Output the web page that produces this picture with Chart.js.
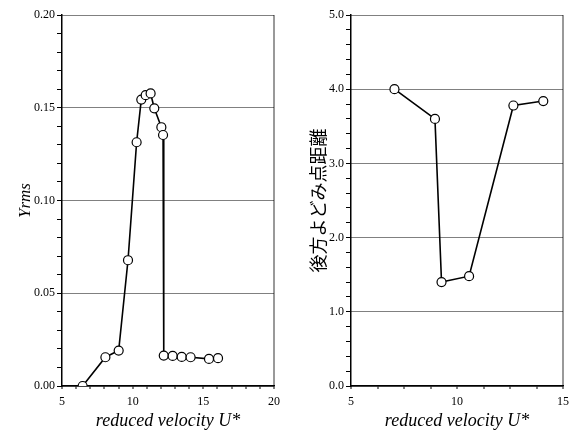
<!DOCTYPE html>
<html lang="ja">
<head>
<meta charset="UTF-8">
<title>reduced velocity</title>
<script src="https://cdn.jsdelivr.net/npm/chart.js"></script>
<style>
  body { margin: 0; background: #fff; }
  .box { position: absolute; top: 0; height: 432px; }
  #left { left: 0; width: 290px; }
  #right { left: 290px; width: 282px; }
</style>
</head>
<body>
<div class="box" id="left"><canvas id="c1"></canvas></div>
<div class="box" id="right"><canvas id="c2"></canvas></div>
<script>
// 左: Yrms
const uLeft = [5, 6.46, 8.07, 9.01, 9.67, 10.28, 10.61, 10.92, 11.27, 11.53, 12.03, 12.15, 12.2, 12.83, 13.47, 14.1, 15.4, 16.04];
const yrms  = [0, 0, 0.0155, 0.0191, 0.0678, 0.1314, 0.1544, 0.1568, 0.1577, 0.1497, 0.1395, 0.1353, 0.0164, 0.0162, 0.0157, 0.0155, 0.0146, 0.015];
// 右: 後方よどみ点距離
const uRight = [7.05, 8.96, 9.27, 10.57, 12.66, 14.07];
const dist   = [4.00, 3.60, 1.40, 1.48, 3.78, 3.84];

const leftXTitle = 'reduced velocity U*';
const leftYTitle = 'Yrms';
const rightYTitle = '後方よどみ点距離';

const serif = 'Liberation Serif';

function isMult(v, m) {
  return Math.abs(v / m - Math.round(v / m)) < 1e-6;
}

function makeChart(id, xs, ys, cfg) {
  const pts = xs.map((x, i) => ({ x: x, y: ys[i] }));
  return new Chart(document.getElementById(id), {
    type: 'scatter',
    data: {
      datasets: [{
        data: pts,
        showLine: true,
        borderColor: '#000',
        borderWidth: 1.6,
        pointRadius: ctx => (ctx.raw && ctx.raw.x <= cfg.xMin ? 0 : 4.5),
        pointBackgroundColor: '#fff',
        pointBorderColor: '#000',
        pointBorderWidth: 1.2
      }]
    },
    options: {
      animation: false,
      responsive: true,
      maintainAspectRatio: false,
      layout: { padding: { top: 15, right: cfg.padRight, left: 0, bottom: 0 } },
      plugins: { legend: { display: false }, tooltip: { enabled: false } },
      scales: {
        x: {
          type: 'linear',
          min: cfg.xMin, max: cfg.xMax,
          afterFit: s => { s.height = 46; s.paddingLeft = 0; s.paddingRight = 0; },
          ticks: {
            stepSize: cfg.xStep, autoSkip: false, maxRotation: 0,
            color: '#000', padding: 6,
            font: { family: serif, size: 12 },
            callback: v => (isMult(v, 5) ? v : '')
          },
          grid: {
            color: c => (c.index === c.scale.ticks.length - 1 ? '#999' : 'rgba(0,0,0,0)'),
            lineWidth: 2,
            tickColor: '#000', tickWidth: 1, tickLength: 3
          },
          border: { color: '#000', width: 1.5 },
          title: {
            display: true, text: leftXTitle, color: '#000',
            padding: { top: 0, bottom: 0 },
            font: { family: serif, size: 18, style: 'italic' }
          }
        },
        y: {
          min: 0, max: cfg.yMax,
          afterFit: s => { s.width = cfg.yWidth; },
          ticks: {
            stepSize: cfg.yMinor, autoSkip: false,
            color: '#000', padding: 2,
            font: { family: serif, size: 12 },
            callback: v => (isMult(v, cfg.yMajor) ? v.toFixed(cfg.dec) : '')
          },
          grid: {
            color: c => (isMult(c.tick.value, cfg.yMajor) ? '#000' : 'rgba(0,0,0,0)'),
            lineWidth: 1,
            tickColor: '#000', tickWidth: 1, tickLength: 5
          },
          border: { color: '#000', width: 1.5, dash: [1, 1] },
          title: {
            display: true, text: cfg.yTitle, color: '#000',
            padding: { top: cfg.yTitlePad, bottom: 0 },
            font: cfg.yFont
          }
        }
      }
    }
  });
}

makeChart('c1', uLeft, yrms, {
  xMin: 5, xMax: 20, xStep: 1,
  yMax: 0.2, yMinor: 0.01, yMajor: 0.05, dec: 2,
  yWidth: 62, padRight: 16,
  yTitle: leftYTitle, yTitlePad: 15,
  yFont: { family: serif, size: 17, style: 'italic' }
});

makeChart('c2', uRight, dist, {
  xMin: 5, xMax: 15, xStep: 1.25,
  yMax: 5, yMinor: 0.2, yMajor: 1, dec: 1,
  yWidth: 61, padRight: 9,
  yTitle: rightYTitle, yTitlePad: 17,
  yFont: { family: 'Noto Sans CJK JP', size: 18 }
});
</script>
</body>
</html>
